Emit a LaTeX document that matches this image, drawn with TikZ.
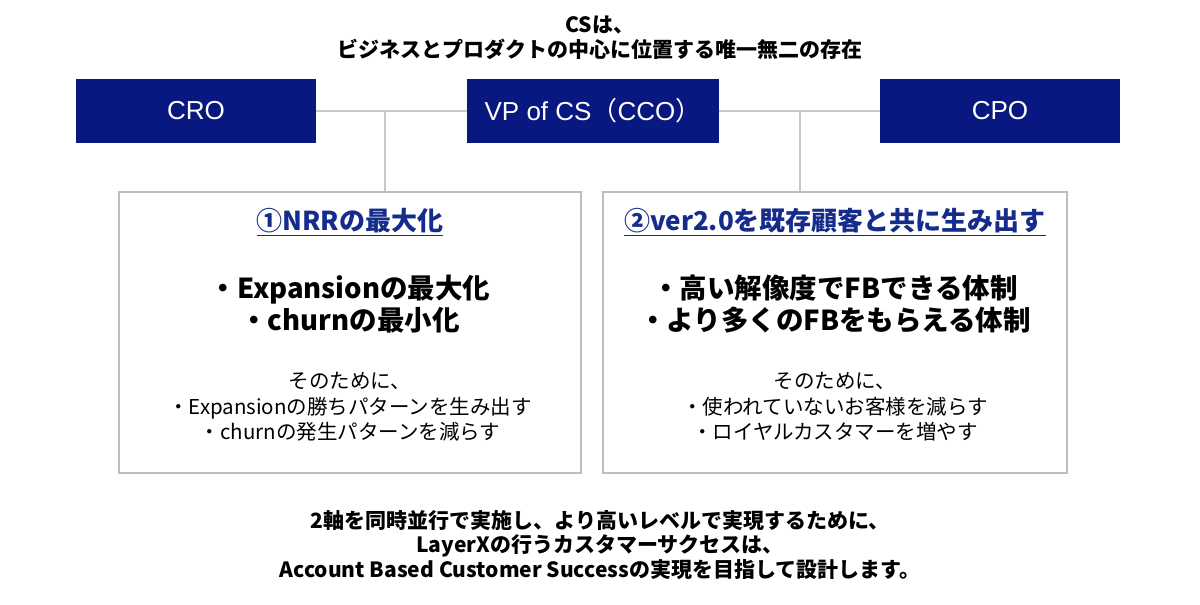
\documentclass[tikz,border=0pt]{standalone}
\usepackage{fontspec}
\setmainfont{Noto Sans CJK JP}
\newfontfamily\arialfont{Liberation Sans}
\definecolor{navy}{RGB}{8,24,128}
\definecolor{headblue}{RGB}{22,44,140}
\definecolor{linegray}{RGB}{200,200,200}
\definecolor{boxgray}{RGB}{190,190,190}

\begin{document}
\begin{tikzpicture}[x=1pt,y=-1pt,
  rolebox/.style={fill=navy,text=white,minimum width=240pt,minimum height=64pt,inner sep=0pt,font=\arialfont\fontsize{26}{30}\selectfont},
  axisbox/.style={draw=boxgray,line width=1.5pt,minimum width=462pt,minimum height=281pt,inner sep=0pt},
  link/.style={draw=linegray,line width=2pt},
  headtext/.style={text=headblue,font=\bfseries\fontsize{26}{30}\selectfont},
  goaltext/.style={align=center,font=\bfseries\fontsize{27.5}{32}\selectfont},
  subtext/.style={align=center,font=\fontsize{20.5}{25.5}\selectfont},
  bigtext/.style={align=center,font=\bfseries\fontsize{21}{24.5}\selectfont}]
\useasboundingbox (0,0) rectangle (1200,605);
\node[bigtext] (title) at (600,38) {CSは、\\ビジネスとプロダクトの中心に位置する唯一無二の存在};
\node[rolebox] (cro) at (196,111) {CRO};
\node[rolebox,minimum width=252pt] (vp) at (593,111) {VP of CS{\rmfamily（}CCO{\rmfamily）}};
\node[rolebox] (cpo) at (1000,111) {CPO};
\node[axisbox] (nrr) at (350,332.5) {};
\node[axisbox,minimum width=464pt] (ver) at (835,332.5) {};
\draw[link] (cro) -- (vp);
\draw[link] (vp) -- (cpo);
\coordinate (j1) at (385,111);
\coordinate (j2) at (800,111);
\draw[link] (j1) -- (j1 |- nrr.north);
\draw[link] (j2) -- (j2 |- ver.north);
\node[headtext] (nrrhead) at (350,222) {\underline{①NRRの最大化}};
\node[goaltext] (nrrgoal) at (350,304) {・Expansionの最大化\\・churnの最小化};
\node[subtext] (nrrsub) at (350,407) {そのために、\\・Expansionの勝ちパターンを生み出す\\・churnの発生パターンを減らす};
\node[headtext] (verhead) at (835,222) {\underline{②ver2.0を既存顧客と共に生み出す}};
\node[goaltext] (vergoal) at (835,304) {・高い解像度でFBできる体制\\・より多くのFBをもらえる体制};
\node[subtext] (versub) at (835,407) {そのために、\\・使われていないお客様を減らす\\・ロイヤルカスタマーを増やす};
\node[bigtext] (summary) at (600,545) {2軸を同時並行で実施し、より高いレベルで実現するために、\\LayerXの行うカスタマーサクセスは、\\Account Based Customer Successの実現を目指して設計します。};
\end{tikzpicture}
\end{document}
